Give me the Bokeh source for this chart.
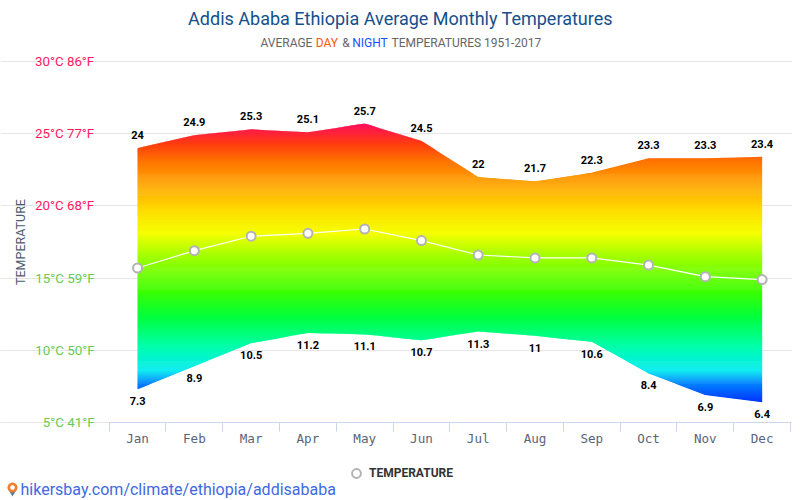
import numpy as np
from bokeh.plotting import figure
from bokeh.embed import file_html
from bokeh.resources import INLINE
from bokeh.core.properties import value
from bokeh.models import (Label, FixedTicker, LinearAxis, Range1d, ColumnDataSource, Legend, LegendItem,
                          PolyAnnotation, Grid)

months = ["Jan", "Feb", "Mar", "Apr", "May", "Jun", "Jul", "Aug", "Sep", "Oct", "Nov", "Dec"]
day_temp = [24, 24.9, 25.3, 25.1, 25.7, 24.5, 22, 21.7, 22.3, 23.3, 23.3, 23.4]
night_temp = [7.3, 8.9, 10.5, 11.2, 11.1, 10.7, 11.3, 11, 10.6, 8.4, 6.9, 6.4]
mean_temp = [15.7, 16.9, 17.9, 18.1, 18.4, 17.6, 16.6, 16.4, 16.4, 15.9, 15.1, 14.9]
y_ticks = [5, 10, 15, 20, 25, 30]
y_labels = ["5°C 41°F", "10°C 50°F", "15°C 59°F", "20°C 68°F", "25°C 77°F", "30°C 86°F"]

stop_t = [25.7, 24.3, 23.1, 21.3, 19.7, 18.1, 16.7, 14.1, 12.3, 10.3, 8.6, 7.7, 6.4]
stop_c = [(255, 13, 94), (255, 60, 15), (255, 115, 0), (255, 170, 0), (255, 220, 0), (245, 255, 0), (170, 255, 0),
          (60, 255, 0), (0, 255, 60), (0, 255, 170), (0, 235, 240), (0, 130, 255), (0, 50, 255)]

W, H = 792, 498
L, T, R, B = 108.7, 61, 790, 422
sx = (R - L) / 12
sy = (B - T) / 25

# the frame fills the whole figure, so that texts outside the plot area are not clipped
p = figure(width=W, height=H, output_backend="svg", toolbar_location=None,
           x_range=Range1d(-L / sx, (W - L) / sx), y_range=Range1d(5 - (H - B) / sy, 30 + T / sy),
           x_axis_type=None, y_axis_type=None,
           min_border_left=0, min_border_right=0, min_border_top=0, min_border_bottom=0,
           outline_line_color=None, background_fill_color="white", border_fill_color="white")

xc = [i + 0.5 for i in range(12)]
xa = LinearAxis(ticker=FixedTicker(ticks=xc, minor_ticks=list(range(13))), fixed_location=5, bounds=(0, 12),
                major_label_overrides={x: m for x, m in zip(xc, months)})
xa.axis_line_color = "#ccd6eb"
xa.major_tick_out = 0
xa.major_tick_in = 0
xa.minor_tick_out = 9
xa.minor_tick_in = 0
xa.minor_tick_line_color = "#ccd6eb"
xa.major_label_text_font = "DejaVu Sans Mono"
xa.major_label_text_font_size = "12.6px"
xa.major_label_text_color = "#5a6478"
xa.major_label_standoff = -1
p.add_layout(xa, "below")

ya = LinearAxis(ticker=FixedTicker(ticks=y_ticks), fixed_location=0, bounds=(5, 30),
                major_label_overrides={t: (s if t >= 20 else "") for t, s in zip(y_ticks, y_labels)})
ya.axis_line_color = None
ya.major_tick_line_color = None
ya.minor_tick_line_color = None
ya.major_tick_out = 0
ya.major_tick_in = 0
ya.major_label_text_font = "Roboto"
ya.major_label_text_font_size = "13.3px"
ya.major_label_text_color = "#ff1a5e"
ya.major_label_standoff = 15
ya.axis_label = "TEMPERATURE"
ya.axis_label_text_font = "Roboto"
ya.axis_label_text_font_style = "normal"
ya.axis_label_text_font_size = "12.5px"
ya.axis_label_text_color = "#4d5a70"
ya.axis_label_standoff = 4
p.add_layout(ya, "left")

grid = Grid(dimension=1, ticker=FixedTicker(ticks=y_ticks), bounds=(0, 12), grid_line_color="#e6e6e6",
            grid_line_width=1)
p.add_layout(grid)


def clip(poly, level, keep_above):
    out = []
    for (x0, y0), (x1, y1) in zip(poly, poly[1:] + poly[:1]):
        in0 = (y0 >= level) == keep_above or y0 == level
        in1 = (y1 >= level) == keep_above or y1 == level
        if in0:
            out.append((x0, y0))
        if in0 != in1:
            f = (level - y0) / (y1 - y0)
            out.append((x0 + f * (x1 - x0), level))
    return out


area = list(zip(xc, day_temp)) + list(zip(xc[::-1], night_temp[::-1]))
edges = np.arange(max(day_temp), min(night_temp) - 0.07, -0.07)
rev_t = stop_t[::-1]
xs, ys, cols = [], [], []
for hi in edges:
    lo = hi - 0.07
    mid = (hi + lo) / 2
    rgb = [int(round(np.interp(mid, rev_t, [c[k] for c in stop_c[::-1]]))) for k in range(3)]
    poly_ = clip(clip(area, lo - 0.035, True), hi, False)
    if len(poly_) >= 3:
        xs.append([q[0] for q in poly_])
        ys.append([q[1] for q in poly_])
        cols.append("#%02x%02x%02x" % tuple(rgb))
p.patches(xs, ys, fill_color=cols, line_color=None)

src = ColumnDataSource(dict(x=xc, y=mean_temp))
p.line("x", "y", source=src, line_color="white", line_width=1.2)
pts = p.scatter("x", "y", source=src, size=9, fill_color="white", line_color="#b3b3b3", line_width=2)

p.text(xc, day_temp, text=[f"{v:g}" for v in day_temp], text_font=value("Roboto"), text_font_style="bold",
       text_font_size="11px", text_color="black", text_align="center", text_baseline="middle", y_offset=-13)
p.text(xc, night_temp, text=[f"{v:g}" for v in night_temp], text_font=value("Roboto"), text_font_style="bold",
       text_font_size="11px", text_color="black", text_align="center", text_baseline="middle", y_offset=12)

for t, s in zip(y_ticks, y_labels):
    if t < 20:
        p.add_layout(Label(x=94, y=t, x_units="canvas", y_units="data", text=s, text_font="Roboto",
                           text_font_size="13.3px", text_color="#66cc55", text_align="right",
                           text_baseline="middle"))


def label(x, y, text, size, color, align="left", style="normal"):
    p.add_layout(Label(x=x, y=y, x_units="canvas", y_units="canvas", text=text, text_font="Roboto",
                       text_font_size=size, text_color=color, text_align=align, text_baseline="middle",
                       text_font_style=style))


label(400, 18, "Addis Ababa Ethiopia Average Monthly Temperatures", "18px", "#14508c", "center")
label(260, 42, "AVERAGE", "12px", "#666666")
label(315.3, 42, "DAY", "12px", "#ff5a00")
label(341.7, 42, "&", "12px", "#666666")
label(351.7, 42, "NIGHT", "12px", "#1a4fff")
label(391, 42, "TEMPERATURES 1951-2017", "12px", "#666666")
label(20, 489, "hikersbay.com/climate/ethiopia/addisababa", "16px", "#4169e1")

leg = Legend(items=[LegendItem(label="TEMPERATURE", renderers=[pts])], location=(345, H - 484),
             border_line_color=None, background_fill_color=None, padding=0, margin=0, spacing=0,
             label_text_font="Roboto", label_text_font_style="bold", label_text_font_size="12px",
             label_text_color="#333333", glyph_width=22, glyph_height=22, label_height=22, label_standoff=2)
p.add_layout(leg, "center")


def poly(xv, yv, fill):
    p.add_layout(PolyAnnotation(xs=list(xv), ys=list(yv), xs_units="canvas", ys_units="canvas",
                                fill_color=fill, fill_alpha=1, line_color=None))


th = np.linspace(0, 2 * np.pi, 25)
cx, cy = 12, 487
poly([cx - 4.8, cx, cx + 4.8], [cy + 1, cy + 9, cy + 1], "#5b7a9a")
poly(cx + 5 * np.cos(th), cy + 5 * np.sin(th), "#f08030")
poly(cx + 2.3 * np.cos(th), cy + 2.3 * np.sin(th), "white")

open("out.html", "w").write(file_html(p, INLINE))
